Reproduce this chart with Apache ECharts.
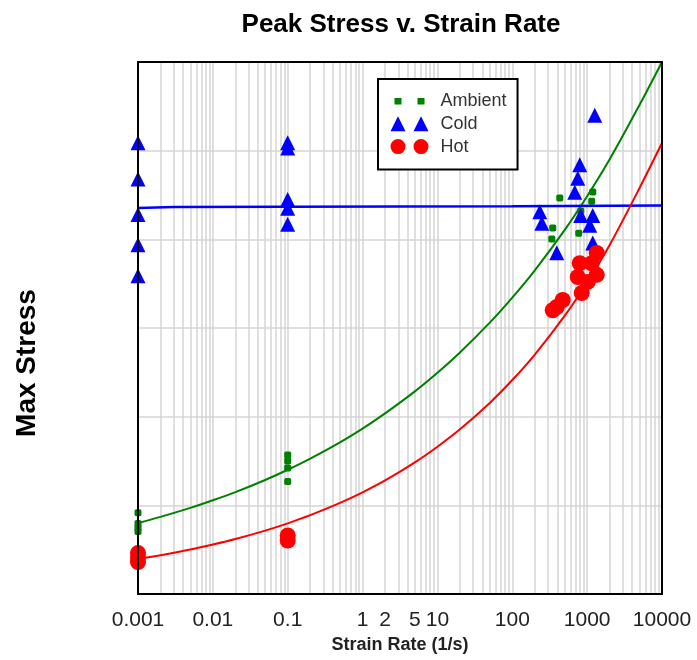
<!DOCTYPE html>
<html><head><meta charset="utf-8">
<script src="https://cdn.jsdelivr.net/npm/echarts@6/dist/echarts.min.js"></script>
<style>html,body{margin:0;padding:0;background:#fff}#c{width:697px;height:660px}</style>
</head><body><div id="c"></div>
<script>
// ---- Data ----
const tickLabels = ['0.001','0.01','0.1','1','2','5','10','100','1000','10000'];

const ambientRate   = [0.001,0.001,0.001,0.001, 0.1,0.1,0.1,0.1, 431,1188,1151,347,337,772,820];
const ambientStress = [91.7,79.5,74.4,70.5, 156.8,150,142,127, 446.6,453.4,443,412.8,400.4,407,432];

const coldRate   = [0.001,0.001,0.001,0.001,0.001, 0.1,0.1,0.1,0.1,0.1, 1263,796,749,683,233,248,820,1188,1083,393,1188];
const coldStress = [509,468,428,394,359, 509,503,445,435,417, 540,484,469,453,431,418,427,427,416,385,396];

const hotRate   = [0.001,0.001,0.001, 0.1,0.1, 1343,796,1151,749,1343,1019,847,472,393,347];
const hotStress = [46.2,40.6,36.1, 66,60.3, 384.6,373,373,357.5,360,352,339.5,331.6,323.7,320];

const fitRate          = [0.001,0.002,0.005,0.01,0.02,0.05,0.1,0.2,0.5,1,2,5,10,20,50,100,200,500,1000,2000,5000,10000];
const ambientFitStress = [80.1,87.0,97.1,105.7,114.9,128.6,140.1,152.7,171.1,186.6,203.7,228.5,249.5,272.4,306.0,334.3,365.1,410.4,448.6,490.2,551.4,600];
const hotFitStress     = [39.5,43.8,50.2,55.8,62.0,71.5,79.7,88.9,102.7,114.7,128.1,148.5,166.1,185.7,215.5,241.3,270.1,313.7,351.4,393.7,457.7,508.6];
const coldFitRate      = [0.001,0.003,100,10000];
const coldFitStress    = [435.3,436.4,437.4,438.1];

// ---- Build ----
const pairs = (xs, ys) => xs.map((x, i) => [x, ys[i]]);
const labelPos = tickLabels.map(t => Math.log10(Number(t)));
const gridPos = [];
for (let n = -3; n <= 3; n++) for (let k = 1; k <= 9; k++) {
  const p = Math.log10(k * Math.pow(10, n));
  if (p > -3 + 1e-9 && p < 4 - 1e-9) gridPos.push(p);
}
const FONT = '"Liberation Sans", Arial, sans-serif';
const gridLine = { color: '#d4d4d4', width: 1.5 };
const frame = (extra) => Object.assign({
  type: 'value', z: 10,
  axisLine: { show: true, onZero: false, lineStyle: { color: '#000', width: 2 } },
  axisTick: { show: false }, axisLabel: { show: false }, splitLine: { show: false }
}, extra);

const chart = echarts.init(document.getElementById('c'));
chart.setOption({
  animation: false,
  backgroundColor: '#fff',
  textStyle: { fontFamily: FONT },
  title: {
    text: 'Peak Stress v. Strain Rate', left: 396, top: 7, textAlign: 'center',
    textStyle: { fontSize: 26, fontWeight: 'bold', color: '#000', fontFamily: FONT }
  },
  legend: {
    orient: 'vertical', left: 378, top: 79,
    padding: [13, 11, 14, 12.5],
    backgroundColor: '#fff', borderColor: '#000', borderWidth: 2, borderRadius: 0,
    itemWidth: 45, itemHeight: 15, itemGap: 4.8,
    textStyle: { fontSize: 18, color: '#333', fontFamily: FONT },
    data: [
      { name: 'Ambient', icon: 'path://M0,0M45,15M4,4.5h7v6.5h-7Z M27,4.5h7v6.5h-7Z' },
      { name: 'Cold', icon: 'path://M45,15M0,15L7.5,0L15,15Z M23,15L30.5,0L38,15Z' },
      { name: 'Hot', icon: 'path://M45,15M0,7.5A7.5,7.5,0,1,1,15,7.5A7.5,7.5,0,1,1,0,7.5Z M23,7.5A7.5,7.5,0,1,1,38,7.5A7.5,7.5,0,1,1,23,7.5Z' }
    ]
  },
  grid: { left: 138, right: 35, top: 62, bottom: 66, containLabel: false },
  xAxis: [
    { type: 'log', logBase: 10, min: 0.001, max: 10000,
      axisLine: { show: false }, axisTick: { show: false }, axisLabel: { show: false }, splitLine: { show: false } },
    { type: 'value', min: -3, max: 4, position: 'bottom',
      axisLine: { show: false, onZero: false },
      axisTick: { show: false, customValues: gridPos },
      splitLine: { show: true, lineStyle: gridLine },
      axisLabel: {
        customValues: labelPos, fontSize: 21, color: '#222', margin: 16, fontFamily: FONT,
        formatter: v => { const i = labelPos.findIndex(p => Math.abs(p - v) < 1e-9); return i >= 0 ? tickLabels[i] : ''; }
      },
      name: 'Strain Rate (1/s)', nameLocation: 'middle', nameGap: 40,
      nameTextStyle: { fontSize: 18, fontWeight: 'bold', color: '#222', fontFamily: FONT } },
    frame({ min: -3, max: 4, position: 'bottom' }),
    frame({ min: -3, max: 4, position: 'top' })
  ],
  yAxis: [
    { type: 'value', min: 0, max: 600, interval: 100,
      axisLine: { show: false, onZero: false }, axisTick: { show: false }, axisLabel: { show: false },
      splitLine: { show: true, lineStyle: gridLine },
      name: 'Max Stress', nameLocation: 'middle', nameGap: 97,
      nameTextStyle: { fontSize: 28, fontWeight: 'bold', color: '#000', fontFamily: FONT, padding: [0, 70, 0, 0] } },
    frame({ min: 0, max: 600, position: 'left' }),
    frame({ min: 0, max: 600, position: 'right' })
  ],
  series: [
    { name: 'Ambient', type: 'scatter', xAxisIndex: 0, yAxisIndex: 0, symbol: 'roundRect', symbolSize: [7, 7],
      itemStyle: { color: '#008000', opacity: 1 }, data: pairs(ambientRate, ambientStress), z: 2 },
    { name: 'Cold', type: 'scatter', xAxisIndex: 0, yAxisIndex: 0, symbol: 'triangle', symbolSize: [15, 15],
      itemStyle: { color: '#0000ff', opacity: 1 }, data: pairs(coldRate, coldStress), z: 2 },
    { name: 'Hot', type: 'scatter', xAxisIndex: 0, yAxisIndex: 0, symbol: 'circle', symbolSize: 16,
      itemStyle: { color: '#ff0000', opacity: 1 }, data: pairs(hotRate, hotStress), z: 2 },
    { name: 'Ambient fit', type: 'line', xAxisIndex: 0, yAxisIndex: 0, showSymbol: false, smooth: 0.3,
      lineStyle: { color: '#008000', width: 2 }, itemStyle: { color: '#008000' }, data: pairs(fitRate, ambientFitStress), z: 3 },
    { name: 'Cold fit', type: 'line', xAxisIndex: 0, yAxisIndex: 0, showSymbol: false,
      lineStyle: { color: '#0000ff', width: 2.5 }, itemStyle: { color: '#0000ff' }, data: pairs(coldFitRate, coldFitStress), z: 3 },
    { name: 'Hot fit', type: 'line', xAxisIndex: 0, yAxisIndex: 0, showSymbol: false, smooth: 0.3,
      lineStyle: { color: '#ff0000', width: 2 }, itemStyle: { color: '#ff0000' }, data: pairs(fitRate, hotFitStress), z: 3 }
  ]
});
</script></body></html>
